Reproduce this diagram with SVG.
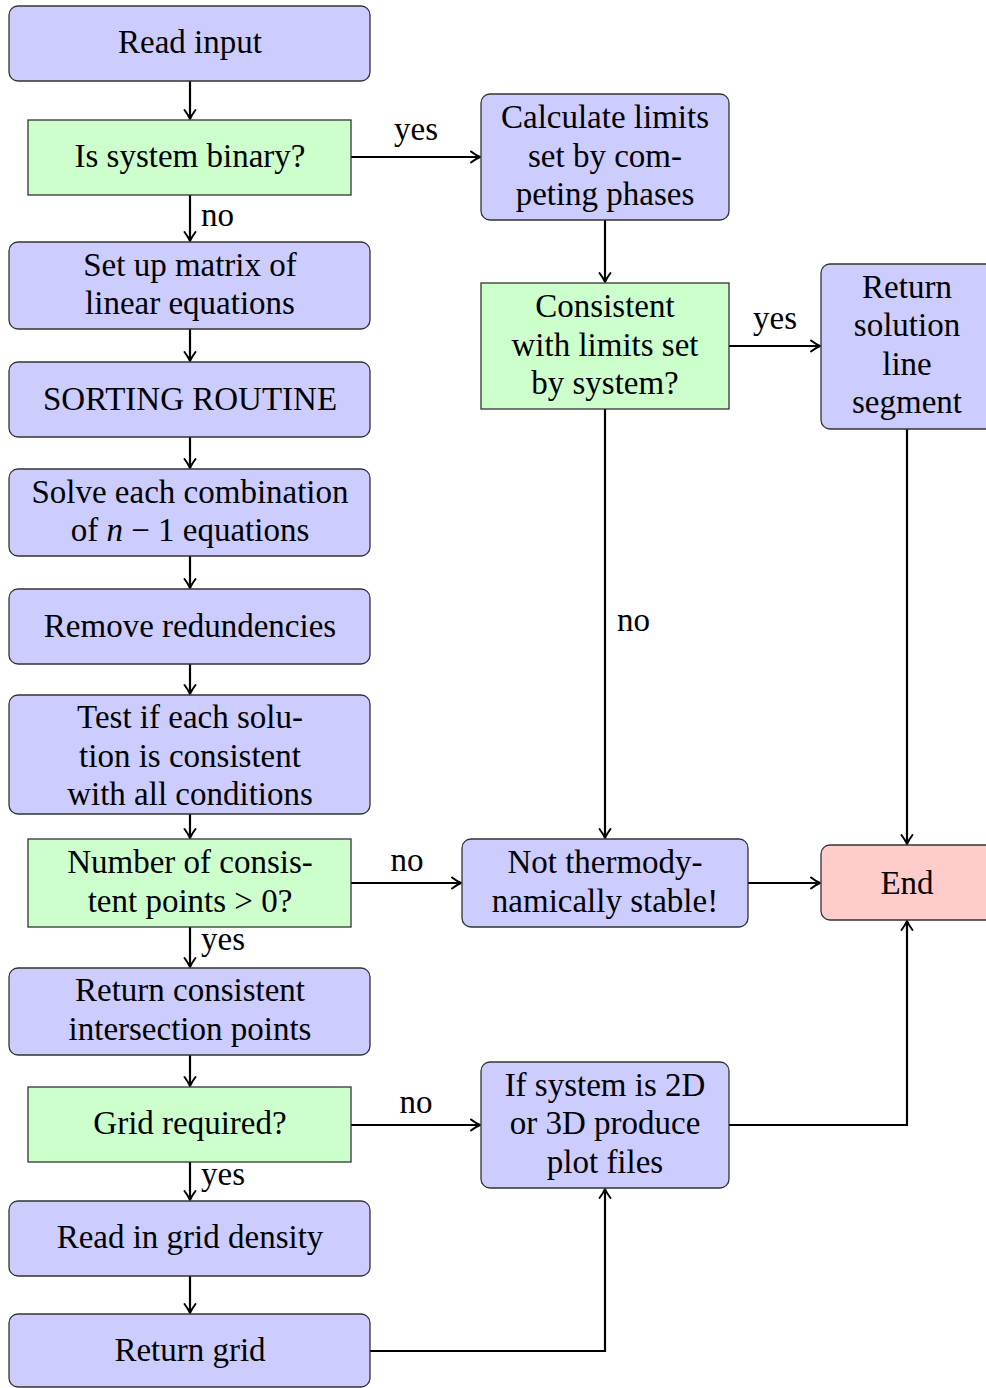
<svg xmlns="http://www.w3.org/2000/svg" width="986" height="1388" viewBox="0 0 986 1388">
<style>
text{font-family:"Liberation Serif","Times New Roman",serif;font-size:33px;fill:#000}
.c{text-anchor:middle}
.b{fill:#ccccff;stroke:#333;stroke-width:1.3}
.g{fill:#ccffcc;stroke:#333;stroke-width:1.3}
.r{fill:#ffcccc;stroke:#333;stroke-width:1.3}
.e{fill:none;stroke:#000;stroke-width:2.2;marker-end:url(#ah)}
</style>
<defs>
<marker id="ah" markerUnits="userSpaceOnUse" markerWidth="16" markerHeight="14" viewBox="-12 -7 14 14" refX="0" refY="0" orient="auto">
<path d="M-9,-5.5 Q-3.5,-1.4 0,0 Q-3.5,1.4 -9,5.5" fill="none" stroke="#000" stroke-width="2" stroke-linecap="round" stroke-linejoin="round"/>
</marker>
</defs>
<g id="connectors">
<path class="e" d="M190,81 V119"/>
<path class="e" d="M351,157 H480"/>
<path class="e" d="M190,195 V241"/>
<path class="e" d="M190,329 V361"/>
<path class="e" d="M190,437 V468"/>
<path class="e" d="M190,556 V588"/>
<path class="e" d="M190,664 V694"/>
<path class="e" d="M190,814 V838"/>
<path class="e" d="M351,883 H461"/>
<path class="e" d="M190,927 V967"/>
<path class="e" d="M190,1055 V1086"/>
<path class="e" d="M351,1125 H480"/>
<path class="e" d="M190,1162 V1200"/>
<path class="e" d="M190,1276 V1313"/>
<path class="e" d="M370,1351 H605 V1189"/>
<path class="e" d="M605,220 V282"/>
<path class="e" d="M729,346 H820"/>
<path class="e" d="M605,409 V838"/>
<path class="e" d="M907,429 V844"/>
<path class="e" d="M748,883 H820"/>
<path class="e" d="M729,1125 H907 V921"/>
<text class="c" x="416" y="140">yes</text>
<text x="201" y="226">no</text>
<text class="c" x="775" y="329">yes</text>
<text x="617" y="631">no</text>
<text class="c" x="407" y="871">no</text>
<text x="201" y="950">yes</text>
<text class="c" x="416" y="1113">no</text>
<text x="201" y="1185">yes</text>
</g>
<g id="read-input"><rect class="b" x="9" y="6" width="361" height="75" rx="9"/><text class="c" x="190" y="53">Read input</text></g>
<g id="is-binary"><rect class="g" x="28" y="120" width="323" height="75"/><text class="c" x="190" y="167">Is system binary?</text></g>
<g id="set-up"><rect class="b" x="9" y="242" width="361" height="87" rx="9"/><text class="c" x="190" y="276">Set up matrix of</text><text class="c" x="190" y="314">linear equations</text></g>
<g id="sorting"><rect class="b" x="9" y="362" width="361" height="75" rx="9"/><text class="c" x="190" y="410">SORTING ROUTINE</text></g>
<g id="solve"><rect class="b" x="9" y="469" width="361" height="87" rx="9"/><text class="c" x="190" y="503">Solve each combination</text><text class="c" x="190" y="541">of <tspan font-style="italic">n</tspan> − 1 equations</text></g>
<g id="remove"><rect class="b" x="9" y="589" width="361" height="75" rx="9"/><text class="c" x="190" y="637">Remove redundencies</text></g>
<g id="test"><rect class="b" x="9" y="695" width="361" height="119" rx="9"/><text class="c" x="190" y="728">Test if each solu-</text><text class="c" x="190" y="767">tion is consistent</text><text class="c" x="190" y="805">with all conditions</text></g>
<g id="number"><rect class="g" x="28" y="839" width="323" height="88"/><text class="c" x="190" y="873">Number of consis-</text><text class="c" x="190" y="912">tent points &gt; 0?</text></g>
<g id="return-consistent"><rect class="b" x="9" y="968" width="361" height="87" rx="9"/><text class="c" x="190" y="1001">Return consistent</text><text class="c" x="190" y="1040">intersection points</text></g>
<g id="grid-required"><rect class="g" x="28" y="1087" width="323" height="75"/><text class="c" x="190" y="1134">Grid required?</text></g>
<g id="read-grid"><rect class="b" x="9" y="1201" width="361" height="75" rx="9"/><text class="c" x="190" y="1248">Read in grid density</text></g>
<g id="return-grid"><rect class="b" x="9" y="1314" width="361" height="73" rx="9"/><text class="c" x="190" y="1361">Return grid</text></g>
<g id="calc-limits"><rect class="b" x="481" y="94" width="248" height="126" rx="9"/><text class="c" x="605" y="128">Calculate limits</text><text class="c" x="605" y="167">set by com-</text><text class="c" x="605" y="205">peting phases</text></g>
<g id="consistent"><rect class="g" x="481" y="283" width="248" height="126"/><text class="c" x="605" y="317">Consistent</text><text class="c" x="605" y="356">with limits set</text><text class="c" x="605" y="394">by system?</text></g>
<g id="return-solution"><rect class="b" x="821" y="264" width="174" height="165" rx="9"/><text class="c" x="907" y="298">Return</text><text class="c" x="907" y="336">solution</text><text class="c" x="907" y="375">line</text><text class="c" x="907" y="413">segment</text></g>
<g id="not-stable"><rect class="b" x="462" y="839" width="286" height="88" rx="9"/><text class="c" x="605" y="873">Not thermody-</text><text class="c" x="605" y="912">namically stable!</text></g>
<g id="end"><rect class="r" x="821" y="845" width="174" height="75" rx="9"/><text class="c" x="907" y="894">End</text></g>
<g id="plot-files"><rect class="b" x="481" y="1062" width="248" height="126" rx="9"/><text class="c" x="605" y="1096">If system is 2D</text><text class="c" x="605" y="1134">or 3D produce</text><text class="c" x="605" y="1173">plot files</text></g>
</svg>
